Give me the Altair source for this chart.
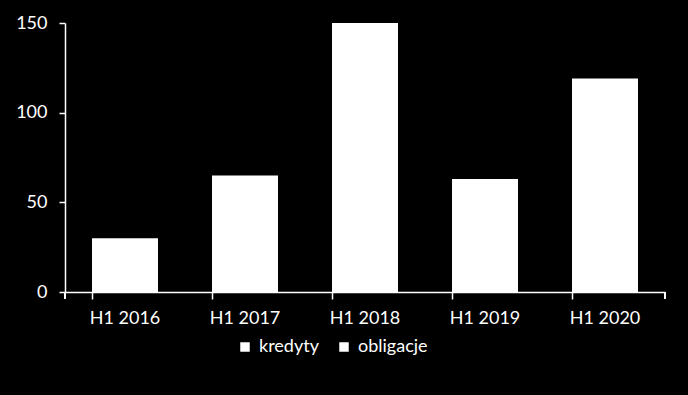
import altair as alt
import pandas as pd

# make the page behind the chart black, like the reference
try:
    import altair.utils.html as _ah
    _orig_tpl = _ah.TEMPLATES["standard"]

    class _BlackPage:
        def render(self, **kw):
            return _orig_tpl.render(**kw).replace(
                "<body>", '<body style="background:#000000;">', 1)

    _ah.TEMPLATES["standard"] = _BlackPage()
except Exception:
    pass

categories = ["H1 2016", "H1 2017", "H1 2018", "H1 2019", "H1 2020"]
kredyty = [30, 65, 150, 63, 119]
obligacje = [0, 0, 0, 0, 0]
series = ["kredyty", "obligacje"]
y_ticks = [0, 50, 100, 150]

rows = []
for i, c in enumerate(categories):
    rows.append({"okres": c, "seria": "kredyty", "wartosc": kredyty[i], "ord": 0})
    rows.append({"okres": c, "seria": "obligacje", "wartosc": obligacje[i], "ord": 1})
df = pd.DataFrame(rows)

FONT = "Lato"
W, H = 600, 269

bars = alt.Chart(df).mark_bar(stroke=None).encode(
    x=alt.X("okres:N", sort=categories,
            scale=alt.Scale(paddingInner=0.45, paddingOuter=0.225),
            axis=alt.Axis(title=None, labelAngle=0, labelColor="white", labelFont=FONT,
                          labelFontSize=18, labelPadding=10, domainColor="white",
                          tickColor="white", tickSize=7, bandPosition=0,
                          domainWidth=1.5, tickWidth=1.5)),
    y=alt.Y("wartosc:Q", stack="zero",
            scale=alt.Scale(domain=[0, 150], nice=False),
            axis=alt.Axis(title=None, values=y_ticks, labelColor="white", labelFont=FONT,
                          labelFontSize=18, labelPadding=12, domainColor="white",
                          tickColor="white", tickSize=6, grid=False,
                          domainWidth=1.5, tickWidth=1.5)),
    color=alt.Color("seria:N", scale=alt.Scale(domain=series, range=["white", "white"]),
                    legend=alt.Legend(title=None, orient="none", direction="horizontal",
                                      legendX=171, legendY=315, symbolType="square",
                                      symbolSize=90, symbolStrokeWidth=0,
                                      labelColor="white", labelFont=FONT, labelFontSize=18,
                                      labelOffset=5, columnPadding=16, padding=0)),
    order=alt.Order("ord:Q"),
)

end_tick = alt.Chart(df).mark_rule(color="white", strokeWidth=1.5).encode(
    x=alt.value(W), y=alt.value(H), y2=alt.value(H + 7)
)
y_ext = alt.Chart(df).mark_rule(color="white", strokeWidth=1.5).encode(
    x=alt.value(0), y=alt.value(H), y2=alt.value(H + 7)
)

chart = alt.layer(bars, end_tick, y_ext).properties(
    width=W, height=H, background="black",
    autosize=alt.AutoSizeParams(type="none"),
    padding={"left": 57, "top": 15, "right": 15, "bottom": 95},
).configure_view(stroke=None)

chart.save("out.html", embed_options={"renderer": "svg", "actions": False})
